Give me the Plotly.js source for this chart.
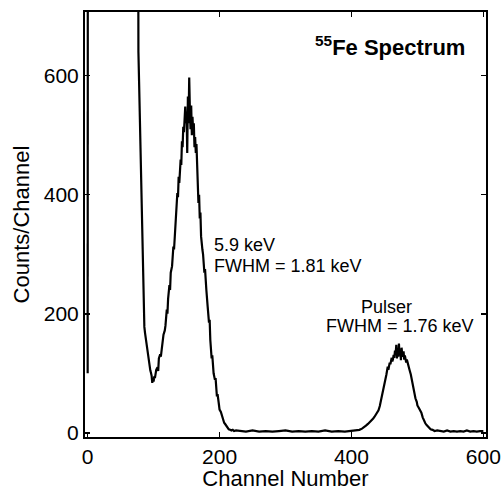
<!DOCTYPE html>
<html>
<head>
<meta charset="utf-8">
<script src="https://cdn.plot.ly/plotly-3.0.1.min.js"></script>
<style>html,body{margin:0;padding:0;background:#fff;}#chart{width:503px;height:491px;}</style>
</head>
<body>
<div id="chart"></div>
<script>
// Channel numbers and counts/channel, region by region
const spikeCh     = [0, 1];
const spikeCounts = [100, 2500];

const peakCh = [
  74, 76, 77, 78, 79, 80, 81, 82, 83, 84,
  85, 86, 87, 88, 89, 90, 91, 92, 93, 94,
  95, 96, 97, 98, 99, 100, 101, 102, 103, 104,
  106, 107, 108, 110, 111, 113, 114, 115, 117, 118,
  120, 121, 122, 124, 125, 126, 128, 129, 130, 131,
  133, 134, 136, 137, 138, 139, 140, 141, 142, 143,
  144, 145, 146, 147, 148, 149, 150, 151, 152, 153,
  154, 155, 156, 157, 158, 159, 160, 161, 162, 163,
  164, 165, 166, 167, 168, 169, 170, 171, 172, 174,
  175, 177, 178, 180, 181, 182, 184, 185, 186, 188,
  189, 190, 191, 193, 194, 196, 197, 199, 200, 202,
  204, 205, 207, 209, 211, 212, 214, 216, 218, 220,
  222, 225];
const peakCounts = [
  2500, 720, 640, 590, 530, 476, 420, 360, 308, 260,
  215, 178, 168, 160, 156, 140, 133, 123, 118, 112,
  105, 101, 96, 84, 92, 86, 95, 92, 100, 106,
  110, 104, 125, 132, 128, 145, 152, 165, 172, 180,
  207, 200, 225, 248, 240, 269, 280, 292, 313, 308,
  355, 370, 403, 396, 430, 420, 445, 459, 450, 490,
  480, 514, 505, 530, 548, 520, 540, 470, 565, 520,
  597, 545, 510, 550, 500, 531, 505, 520, 480, 497,
  470, 485, 447, 430, 386, 400, 360, 370, 330, 308,
  300, 269, 275, 240, 230, 212, 185, 190, 156, 125,
  130, 111, 100, 89, 92, 61, 65, 48, 39, 35,
  28, 22, 17, 14, 10, 8, 6, 5, 4, 5,
  3, 4];

const gapCh = [230, 240, 250, 260, 270, 280, 290, 300, 310, 320, 330, 340, 350, 360, 370, 380, 390, 400];
const gapCounts = [3, 2, 4, 2, 3, 2, 3, 4, 2, 3, 2, 3, 2, 4, 2, 3, 2, 3];

const pulserCh = [
  404, 408, 412, 416, 419, 422, 425, 427, 429, 431,
  433, 435, 437, 439, 441, 443, 445, 446, 448, 449,
  450, 452, 453, 455, 456, 458, 459, 461, 462, 463,
  464, 465, 466, 467, 468, 469, 470, 471, 472, 473,
  474, 475, 476, 477, 478, 479, 480, 481, 482, 483,
  484, 485, 486, 487, 488, 490, 491, 493, 494, 496,
  497, 499, 500, 502, 504, 506, 508, 510, 512, 514,
  516, 518, 520, 523, 526, 530];
const pulserCounts = [
  3, 4, 5, 7, 9, 12, 15, 17, 19, 21,
  24, 27, 30, 33, 38, 45, 55, 61, 72, 78,
  84, 92, 98, 111, 106, 118, 115, 126, 120, 124,
  131, 126, 138, 133, 148, 125, 140, 128, 150, 130,
  139, 122, 143, 132, 128, 137, 123, 130, 123, 118,
  123, 118, 112, 108, 106, 98, 92, 81, 74, 62,
  58, 52, 46, 42, 38, 34, 26, 20, 16, 13,
  10, 8, 6, 5, 3, 4];

const tailCh = [535, 540, 545, 550, 555, 560, 565, 570, 575, 580, 585, 590, 595, 600];
const tailCounts = [3, 2, 4, 2, 3, 2, 3, 2, 4, 2, 3, 2, 3, 3];

const xTicks = [0, 200, 400, 600];
const yTicks = [0, 200, 400, 600];
const peakLabel = ["5.9 keV", "FWHM = 1.81 keV"];
const pulserLabel = ["Pulser", "FWHM = 1.76 keV"];
const titleText = "<b><sup>55</sup>Fe Spectrum</b>";

const font = "Liberation Sans, Arial, Helvetica, sans-serif";

// null point separates the off-scale spike at channel 0-1 from the main spectrum
const channels = spikeCh.concat([2], peakCh, gapCh, pulserCh, tailCh);
const counts = spikeCounts.concat([null], peakCounts, gapCounts, pulserCounts, tailCounts);

const trace = {
  x: channels, y: counts, type: "scatter", mode: "lines",
  line: {color: "#000", width: 2.2}, connectgaps: false, hoverinfo: "skip"
};

const axisCommon = {
  showgrid: false, zeroline: false, showline: true, linecolor: "#000", linewidth: 2,
  mirror: "ticks", ticks: "inside", ticklen: 5, tickwidth: 1.5, tickcolor: "#000",
  tickfont: {family: font, size: 21, color: "#000"}
};

const layout = {
  width: 503, height: 491,
  margin: {l: 85, r: 17, t: 12, b: 54},
  paper_bgcolor: "#fff", plot_bgcolor: "#fff",
  showlegend: false,
  xaxis: Object.assign({}, axisCommon, {
    range: [-4, 604], tickvals: xTicks, ticktext: xTicks.map(String),
    title: {text: "Channel Number", font: {family: font, size: 22, color: "#000"}, standoff: 6}
  }),
  yaxis: Object.assign({}, axisCommon, {
    range: [-7, 707], tickvals: yTicks, ticktext: yTicks.map(String),
    title: {text: "Counts/Channel", font: {family: font, size: 22, color: "#000"}, standoff: 8}
  }),
  annotations: [
    {x: 341, y: 650, xref: "x", yref: "y", xanchor: "left", yanchor: "middle", showarrow: false,
     text: titleText, font: {family: font, size: 22, color: "#000"}},
    {x: 188, y: 315, xref: "x", yref: "y", xanchor: "left", yanchor: "middle", showarrow: false,
     text: peakLabel[0], font: {family: font, size: 18, color: "#000"}},
    {x: 188, y: 280, xref: "x", yref: "y", xanchor: "left", yanchor: "middle", showarrow: false,
     text: peakLabel[1], font: {family: font, size: 18, color: "#000"}},
    {x: 412, y: 211, xref: "x", yref: "y", xanchor: "left", yanchor: "middle", showarrow: false,
     text: pulserLabel[0], font: {family: font, size: 18, color: "#000"}},
    {x: 359, y: 180, xref: "x", yref: "y", xanchor: "left", yanchor: "middle", showarrow: false,
     text: pulserLabel[1], font: {family: font, size: 18, color: "#000"}}
  ]
};

Plotly.newPlot("chart", [trace], layout, {displayModeBar: false, staticPlot: true});
</script>
</body>
</html>
